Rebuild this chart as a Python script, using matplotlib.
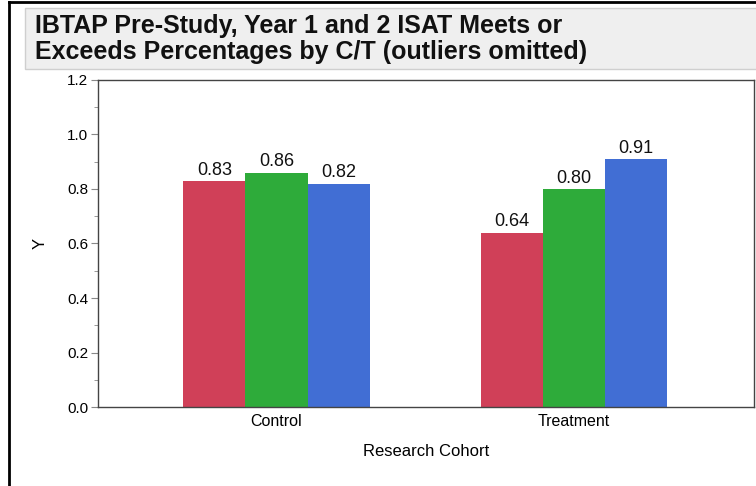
import matplotlib
matplotlib.use("Agg")
import matplotlib.pyplot as plt
from matplotlib.patches import Rectangle
from matplotlib.ticker import MultipleLocator
import numpy as np

plt.rcParams["font.family"] = ["Liberation Sans", "DejaVu Sans"]

# データ: コホート × 年度(Pre-Study / Year 1 / Year 2)
cohorts = ["Control", "Treatment"]
pre_study = [0.83, 0.64]
year1 = [0.86, 0.80]
year2 = [0.82, 0.91]
series = [pre_study, year1, year2]
colors = ["#d04058", "#2eab3a", "#416ed4"]

fig = plt.figure(figsize=(7.56, 4.86), dpi=100)

# 外枠 (上と左だけ見える)
fig.add_artist(plt.Line2D([0.012, 0.012], [0, 0.996], color="black", lw=2,
                          transform=fig.transFigure))
fig.add_artist(plt.Line2D([0.012, 1.0], [0.996, 0.996], color="black", lw=2,
                          transform=fig.transFigure))

# タイトル帯
fig.add_artist(Rectangle((0.033, 1 - 69 / 486), 1.0, 61 / 486,
                         transform=fig.transFigure, facecolor="#efefef",
                         edgecolor="#cfcfcf", lw=1))
fig.text(0.046, 1 - 14 / 486,
         "IBTAP Pre-Study, Year 1 and 2 ISAT Meets or\n"
         "Exceeds Percentages by C/T (outliers omitted)",
         ha="left", va="top", fontsize=18, fontweight="bold",
         linespacing=1.12, color="#111111")

ax = fig.add_axes([98 / 756, 1 - 407 / 486, 656 / 756, 327 / 486])
x = np.arange(len(cohorts))
w = 0.209
for i, (vals, col) in enumerate(zip(series, colors)):
    xs = x + (i - 1) * w
    ax.bar(xs, vals, width=w, color=col, edgecolor="none")
    for xi, v in zip(xs, vals):
        ax.text(xi, v + 0.008, f"{v:.2f}", ha="center", va="bottom",
                fontsize=13, color="#111111")

ax.set_xlim(-0.6, 1.605)
ax.set_ylim(0, 1.2)
ax.set_xticks(x)
ax.set_xticklabels(cohorts, fontsize=11.5)
ax.tick_params(axis="x", length=0, pad=5)
ax.yaxis.set_major_locator(MultipleLocator(0.2))
ax.yaxis.set_minor_locator(MultipleLocator(0.1))
ax.yaxis.set_major_formatter(matplotlib.ticker.FormatStrFormatter("%.1f"))
ax.tick_params(axis="y", which="major", length=5, color="#888888",
               labelsize=11, pad=2)
ax.tick_params(axis="y", which="minor", length=3, color="#888888")
for s in ax.spines.values():
    s.set_color("#444444")
    s.set_linewidth(1)
ax.set_xlabel("Research Cohort", fontsize=12, labelpad=11)
ax.set_ylabel("Y", fontsize=12, labelpad=14)

fig.savefig("out.png", dpi=100, facecolor="white")
